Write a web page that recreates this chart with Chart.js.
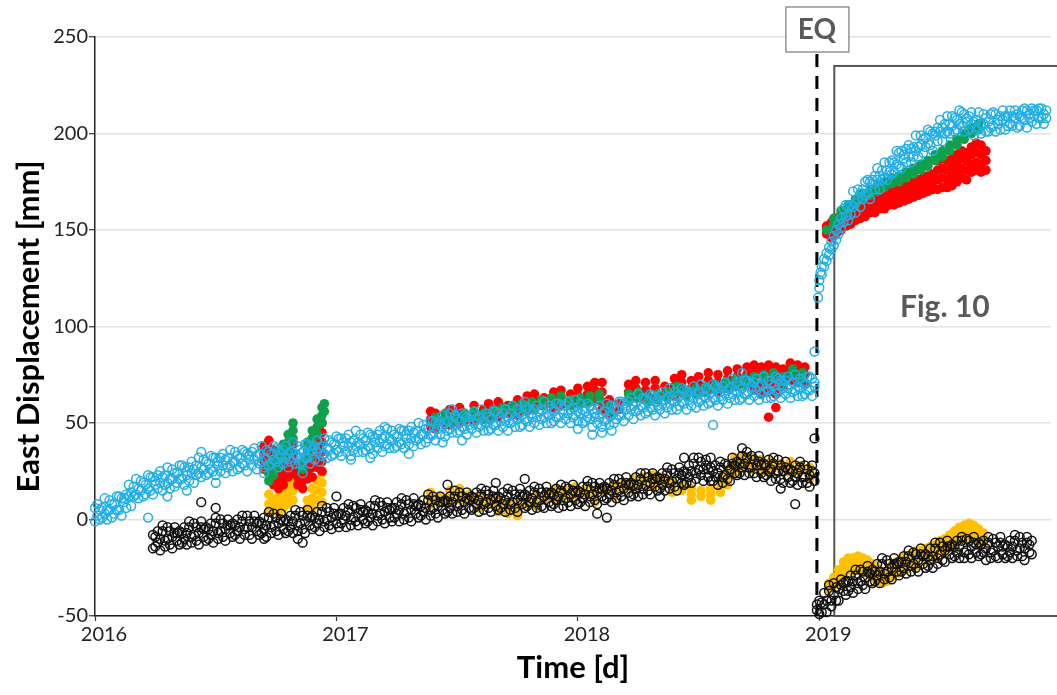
<!DOCTYPE html>
<html>
<head>
<meta charset="utf-8">
<script src="https://cdn.jsdelivr.net/npm/chart.js@4.4.0/dist/chart.umd.min.js"></script>
<style>
  html, body { margin: 0; padding: 0; background: #fff; }
  canvas { display: block; }
</style>
</head>
<body>
<canvas id="myChart" width="1057" height="695"></canvas>
<script>
// axis ticks
const xTicks = [2016, 2017, 2018, 2019];
const yTicks = [-50, 0, 50, 100, 150, 200, 250];

// rows: [time (decimal year), value, value, ...]  east displacement in mm
const blueRows = [
  [2016.00,-1,6],[2016.01,2,8],[2016.02,0,5],[2016.03,6,1],[2016.04,3,11],[2016.05,5,0],[2016.06,10,5],[2016.07,1,8],[2016.08,8,3],[2016.09,12,5],
  [2016.10,5,12],[2016.11,11,2],[2016.12,9,11],[2016.13,6,13],[2016.14,12,18],[2016.15,7,14],[2016.16,17,12],[2016.17,13,21],[2016.18,16,11],[2016.19,20,15],
  [2016.20,12,19],[2016.21,18,13],[2016.22,23,16,1],[2016.23,15,22],[2016.24,22,13],[2016.25,18,20],[2016.26,16,23],[2016.27,19,25],[2016.28,15,22],[2016.29,23,18],
  [2016.30,19,27,12],[2016.31,21,16],[2016.32,26,21],[2016.33,17,24],[2016.34,24,19],[2016.35,28,21],[2016.36,21,28],[2016.37,27,18],[2016.38,23,25,15],[2016.39,20,27],
  [2016.40,24,30],[2016.41,19,26],[2016.42,28,23],[2016.43,24,32],[2016.44,27,22,35],[2016.45,31,26],[2016.46,23,30],[2016.47,29,24],[2016.48,33,26],[2016.49,25,32],
  [2016.50,32,23,19],[2016.51,28,30],[2016.52,25,32],[2016.53,28,34],[2016.54,24,31],[2016.55,32,27],[2016.56,28,36],[2016.57,30,25],[2016.58,35,30],[2016.59,26,33],
  [2016.60,32,27],[2016.61,36,29],[2016.62,28,35],[2016.63,34,25],[2016.64,31,33],[2016.65,28,35],[2016.66,31,37],[2016.67,26,33],[2016.68,34,29],[2016.69,30,38],
  [2016.70,32,27,24],[2016.71,36,31],[2016.72,28,35],[2016.73,34,29],[2016.74,38,31],[2016.75,30,37],[2016.76,36,27],[2016.77,32,34],[2016.78,29,36],[2016.79,32,38],
  [2016.80,27,34],[2016.81,35,30],[2016.82,32,40],[2016.83,34,29],[2016.84,38,33],[2016.85,29,36],[2016.86,35,30,24],[2016.87,39,32],[2016.88,32,39],[2016.89,38,29],
  [2016.90,34,36],[2016.91,31,38],[2016.92,35,41],[2016.93,30,37],[2016.94,38,33],[2016.95,34,42],[2016.96,37,32],[2016.97,41,36],[2016.98,33,40],[2016.99,39,34],
  [2017.00,43,36],[2017.01,35,42],[2017.02,42,33],[2017.03,38,40],[2017.04,35,42],[2017.05,38,44],[2017.06,33,40,31],[2017.07,41,36],[2017.08,38,46],[2017.09,40,35],
  [2017.10,44,39],[2017.11,35,42],[2017.12,41,36],[2017.13,45,38],[2017.14,37,44,32],[2017.15,43,34],[2017.16,40,42],[2017.17,37,44],[2017.18,40,46],[2017.19,35,42],
  [2017.20,43,38,48],[2017.21,39,47],[2017.22,42,37],[2017.23,46,41],[2017.24,37,44],[2017.25,43,38],[2017.26,47,40],[2017.27,39,46],[2017.28,46,37],[2017.29,42,44],
  [2017.30,39,46,34],[2017.31,42,48],[2017.32,38,45],[2017.33,46,41],[2017.34,42,50],[2017.35,44,39],[2017.36,49,44],[2017.37,40,47],[2017.38,47,42],[2017.39,51,44],
  [2017.40,44,51],[2017.41,50,41],[2017.42,47,49],[2017.43,44,51],[2017.44,48,54,40],[2017.45,43,50],[2017.46,51,46],[2017.47,47,55],[2017.48,50,45,57],[2017.49,54,49],
  [2017.50,45,52],[2017.51,51,46],[2017.52,55,48,41],[2017.53,47,54],[2017.54,53,44],[2017.55,49,51],[2017.56,47,54],[2017.57,50,56],[2017.58,45,52],[2017.59,53,48],
  [2017.60,49,57],[2017.61,51,46],[2017.62,55,50],[2017.63,46,53],[2017.64,52,47],[2017.65,56,49],[2017.66,49,56],[2017.67,55,46],[2017.68,51,53],[2017.69,48,55],
  [2017.70,51,57],[2017.71,46,53],[2017.72,55,50],[2017.73,51,59],[2017.74,53,48],[2017.75,57,52],[2017.76,48,55],[2017.77,54,49],[2017.78,59,52,61],[2017.79,51,58],
  [2017.80,57,48],[2017.81,53,55],[2017.82,50,57],[2017.83,53,59],[2017.84,49,56],[2017.85,57,52],[2017.86,53,61],[2017.87,55,50],[2017.88,59,54],[2017.89,50,57],
  [2017.90,56,51],[2017.91,60,53],[2017.92,53,60],[2017.93,59,50],[2017.94,55,57],[2017.95,52,59],[2017.96,55,61],[2017.97,50,57],[2017.98,58,53],[2017.99,54,62],
  [2018.00,56,51,47],[2018.01,60,55],[2018.02,50,57],[2018.03,56,51],[2018.04,60,53],[2018.05,52,59],[2018.06,57,48,44],[2018.07,53,55],[2018.08,50,57],[2018.09,53,59],
  [2018.10,48,55,45],[2018.11,56,51],[2018.12,52,60],[2018.13,54,49],[2018.14,59,54,46],[2018.15,50,57],[2018.16,57,52],[2018.17,61,54],[2018.18,54,61],[2018.19,60,51],
  [2018.20,57,59],[2018.21,54,61],[2018.22,57,63],[2018.23,52,59],[2018.24,61,56],[2018.25,57,65],[2018.26,59,54],[2018.27,63,58],[2018.28,55,62],[2018.29,61,56],
  [2018.30,65,58],[2018.31,57,64],[2018.32,63,54],[2018.33,59,61],[2018.34,57,64],[2018.35,60,66],[2018.36,55,62],[2018.37,63,58],[2018.38,60,68],[2018.39,62,57],
  [2018.40,66,61],[2018.41,57,64],[2018.42,64,59],[2018.43,68,61],[2018.44,60,67],[2018.45,66,57],[2018.46,62,64],[2018.47,59,66],[2018.48,63,69],[2018.49,58,65],
  [2018.50,66,61],[2018.51,62,70],[2018.52,64,59],[2018.53,68,63],[2018.54,60,67],[2018.55,66,61],[2018.56,70,63,49],[2018.57,62,69],[2018.58,68,59],[2018.59,64,66],
  [2018.60,62,69],[2018.61,65,71],[2018.62,60,67],[2018.63,68,63],[2018.64,65,73],[2018.65,67,62],[2018.66,71,66],[2018.67,62,69],[2018.68,68,63,76],[2018.69,72,65],
  [2018.70,65,72],[2018.71,71,62],[2018.72,67,69],[2018.73,64,71],[2018.74,67,73],[2018.75,62,69],[2018.76,70,65],[2018.77,66,74],[2018.78,68,63],[2018.79,72,67],
  [2018.80,63,70],[2018.81,69,64],[2018.82,74,67],[2018.83,66,73],[2018.84,72,63],[2018.85,68,70],[2018.86,65,72],[2018.87,68,74],[2018.88,63,70],[2018.89,71,66],
  [2018.90,67,75],[2018.91,69,64],[2018.92,73,68],[2018.93,64,71],[2018.94,70,65],[2018.95,74,67],[2018.96,67,74],[2018.97,73,64],[2018.98,69,71,87],
  [2018.995,115],[2019.00,124,120],[2019.005,128],[2019.01,131,127],[2019.02,135,131],[2019.03,138,134],[2019.04,141,137],[2019.05,144,140],[2019.06,147,142],[2019.07,150,145],
  [2019.08,153,148],[2019.09,156,151],
  [2019.10,154,161],[2019.11,157,163],[2019.12,155,162],[2019.13,163,158],[2019.14,162,170],[2019.15,164,159],[2019.16,171,166],[2019.17,162,169],[2019.18,171,166],[2019.19,175,168],
  [2019.20,169,176],[2019.21,175,166],[2019.22,174,176],[2019.23,171,178],[2019.24,176,182],[2019.25,171,178],[2019.26,181,176],[2019.27,177,185],[2019.28,181,176],[2019.29,185,180],
  [2019.30,179,186],[2019.31,185,180],[2019.32,191,184],[2019.33,183,190],[2019.34,191,182],[2019.35,187,189],[2019.36,185,192],[2019.37,188,194],[2019.38,185,192],[2019.39,193,188],
  [2019.40,191,199],[2019.41,193,188],[2019.42,199,194],[2019.43,190,197],[2019.44,198,193],[2019.45,202,195],[2019.46,194,201],[2019.47,200,191],[2019.48,199,201],[2019.49,196,203],
  [2019.50,201,207],[2019.51,196,203],[2019.52,205,200],[2019.53,201,209],[2019.54,205,200],[2019.55,209,204],[2019.56,201,208],[2019.57,207,202],[2019.58,212,205],[2019.59,204,211],
  [2019.60,210,201],[2019.61,206,208],[2019.62,202,209],[2019.63,205,211],[2019.64,199,206],[2019.65,207,202],[2019.66,203,211],[2019.67,205,200],[2019.68,210,205],[2019.69,201,208],
  [2019.70,206,201],[2019.71,210,203],[2019.72,204,211],[2019.73,210,201],[2019.74,205,207],[2019.75,202,209],[2019.76,207,212],[2019.77,202,209],[2019.78,209,204],[2019.79,205,212],
  [2019.80,209,204],[2019.81,212,208],[2019.82,203,210],[2019.83,209,204],[2019.84,212,208],[2019.85,207,213],[2019.86,212,203],[2019.87,208,210],[2019.88,206,213],[2019.89,209,212],
  [2019.90,205,212],[2019.91,213,208],[2019.92,208,213],[2019.93,210,205],[2019.94,212,208]
];

const redRows = [
  [2016.70,38,34,30,26],[2016.72,41,37,33,28,24],[2016.74,36,32,27,22,18],[2016.76,33,29,25,20,16],[2016.78,30,26,22,18],[2016.80,34,30,26,22],
  [2016.82,39,34,29,24],[2016.84,26,22,18],[2016.86,24,20,16],[2016.88,35,30,25,21],[2016.90,42,37,32,27,22],[2016.92,47,42,37,32,27],[2016.94,50,45,40,35,30,25],
  [2017.39,56,52,48],[2017.41,55,51,47],[2017.45,53,49],[2017.47,57,53,49],[2017.51,58,54,50],[2017.53,55,51],[2017.57,59,55,51],[2017.61,57,53],[2017.63,60,56,52],
  [2017.67,61,57,53],[2017.71,59,55],[2017.75,62,58,54],[2017.79,64,60,56],[2017.82,65,61,57],[2017.86,63,59],[2017.90,66,62,58],[2017.93,67,63,59],[2017.97,65,61],
  [2018.00,68,64,60],[2018.04,69,65,61],[2018.07,71,67,62],[2018.10,71,66,61,57],[2018.13,62,58,55],[2018.17,60,57],[2018.21,70,66,62],[2018.24,72,68,63],[2018.28,71,67,62],
  [2018.32,72,68,63],[2018.36,69,65],[2018.40,73,69,64],[2018.43,75,71,66],[2018.47,72,68],[2018.50,74,70,65],[2018.54,76,72,67],[2018.58,75,71,66],[2018.62,77,73,68],
  [2018.66,78,74,69],[2018.70,79,75,70],[2018.73,80,76,71,67],[2018.76,79,75,70,65],[2018.79,80,76,71,66,53],[2018.82,79,75,70,65,58],[2018.85,78,74,69],[2018.88,81,77,72],
  [2018.91,80,76,71],[2018.94,79,75,70],
  [2019.03,152,148],[2019.05,154,150,146],[2019.07,156,152,148],[2019.09,158,154,150],[2019.11,160,156,152],[2019.13,161,157,153],[2019.15,163,159,155],[2019.17,164,160,156],
  [2019.19,165,161,157],[2019.21,167,163,159],[2019.23,167,163,159],[2019.25,169,165,161],[2019.27,169,165,161],[2019.29,171,167,163],[2019.31,171,167,163],[2019.33,172,168,164],
  [2019.35,173,169,165],[2019.37,174,170,166],[2019.39,175,171,167],[2019.41,176,172,168],[2019.43,177,173,169],[2019.45,178,174,170],[2019.47,179,175,171],[2019.49,186,181,176,171],
  [2019.51,187,182,177,172],[2019.53,186,181,176,172],[2019.55,187,183,178,173],[2019.57,189,185,180,175],[2019.59,191,187,182,177],[2019.61,190,186,181,176],[2019.63,193,189,184,180],
  [2019.65,195,190,185,181],[2019.67,194,189,184,180],[2019.69,191,186,181]
];

const greenRows = [
  [2016.72,20,24,28],[2016.74,23,27,31],[2016.76,27,31,35],[2016.78,31,35,39],[2016.80,36,40,44],[2016.82,42,46,50],
  [2016.86,26,30],[2016.88,32,36,40],[2016.90,38,42,46],[2016.92,44,48,52],[2016.94,50,54,58],[2016.95,60,56],
  [2017.41,50,53],[2017.45,52,55],[2017.49,54,51],[2017.53,52,55],[2017.57,53,56],[2017.61,55,52],[2017.65,57,54],[2017.69,55,58],[2017.73,56,59],[2017.77,60,57],
  [2017.81,61,58],[2017.85,59,62],[2017.89,60,63],[2017.93,61,64],[2017.97,62,59],[2018.01,63,60],[2018.05,64,61],[2018.09,65,62],[2018.13,59,56],[2018.21,62,65],
  [2018.25,63,66],[2018.29,64,61],[2018.33,65,62],[2018.37,63,66],[2018.41,66,69],[2018.45,67,64],[2018.49,68,65],[2018.53,69,66],[2018.57,70,67],[2018.61,71,68],
  [2018.65,72,69],[2018.69,73,70],[2018.73,74,71],[2018.77,72,75],[2018.81,73,76],[2018.85,74,71],[2018.89,75,78],[2018.93,76,73],
  [2019.03,150],[2019.06,153,156],[2019.09,157,160],[2019.12,160,163],[2019.15,163,166],[2019.18,166,169],[2019.21,168,171],[2019.24,170,173],[2019.27,172,175],
  [2019.30,174,177],[2019.33,175,178],[2019.36,177,180],[2019.39,179,182],[2019.42,181,184],[2019.45,183,186],[2019.48,186,189],[2019.51,188,191],[2019.54,191,194],
  [2019.57,194,197],[2019.60,197,200],[2019.63,200,203],[2019.66,202,205]
];

const orangeRows = [
  [2016.72,13,8,4],[2016.74,10,5],[2016.76,12,7,3],[2016.78,16,11,6],[2016.80,18,13,8],[2016.82,20,15,10],
  [2016.88,10,6],[2016.90,16,11,6],[2016.92,20,15,10],[2016.94,24,19,14,9],
  [2017.39,14,11,8],[2017.43,12,9],[2017.47,15,12,9],[2017.51,16,13,10],[2017.55,13,10],[2017.59,12,9,6],[2017.63,11,8],[2017.67,10,7,4],[2017.71,9,6,3],
  [2017.75,8,5,2],[2017.79,11,8],[2017.83,13,10,7],[2017.87,14,11],[2017.91,16,13,10],[2017.95,15,12],[2017.99,17,14,11],[2018.03,16,13],[2018.07,15,12,9],
  [2018.11,17,14],[2018.15,18,15,12],[2018.19,19,16],[2018.23,21,18,15],[2018.27,22,19],[2018.31,23,20,17],[2018.35,22,19],[2018.39,20,17,14],[2018.43,18,15],
  [2018.47,16,13,10],[2018.51,15,12],[2018.55,16,13,10],[2018.59,20,17,14],[2018.62,26,22,18],[2018.65,32,28,24],[2018.68,33,30,27],[2018.72,32,29,26],
  [2018.76,31,28,25],[2018.80,30,27,24],[2018.84,29,26],[2018.88,30,27,24],[2018.92,28,25],[2018.96,27,24,21],
  [2019.04,-36,-33],[2019.06,-34,-30],[2019.08,-30,-26,-33],[2019.10,-25,-22,-29],[2019.12,-23,-20,-26],[2019.14,-23,-20,-27],[2019.16,-22,-19,-26],[2019.18,-23,-20,-27],
  [2019.20,-24,-21,-28],[2019.22,-26,-23,-30],[2019.24,-28,-25,-32],[2019.26,-30,-27,-33],[2019.28,-29,-32],[2019.30,-27,-24,-30],[2019.32,-25,-22,-28],[2019.34,-23,-20],
  [2019.36,-22,-19,-26],[2019.38,-21,-18],[2019.40,-20,-17,-24],[2019.42,-19,-16],[2019.44,-18,-15,-22],[2019.46,-17,-14],[2019.48,-16,-13,-20],[2019.50,-14,-11],
  [2019.52,-13,-10,-17],[2019.54,-11,-8],[2019.56,-9,-6,-13],[2019.58,-7,-4,-11],[2019.60,-6,-3,-10],[2019.62,-5,-2,-9],[2019.64,-6,-3,-10],[2019.66,-8,-5,-12],[2019.68,-10,-7,-13]
];

const blackRows = [
  [2016.24,-15,-8],[2016.25,-9,-14],[2016.26,-6,-12],[2016.27,-16,-10],[2016.28,-6,-3],[2016.29,-11,-14],[2016.30,-4,-10],[2016.31,-13,-6],[2016.32,-9,-15],[2016.33,-7,-4],
  [2016.34,-11,-7],[2016.35,-13,-6],[2016.36,-7,-12],[2016.37,-4,-10],[2016.38,-13,-7],[2016.39,-4,-1],[2016.40,-9,-12],[2016.41,-2,-8],[2016.42,-11,-4],[2016.43,-7,-13],
  [2016.44,-4,-1,9],[2016.45,-9,-5],[2016.46,-11,-4],[2016.47,-5,-10],[2016.48,-2,-8],[2016.49,-12,-6],[2016.50,-2,1,6],[2016.51,-7,-10],[2016.52,0,-6],[2016.53,-9,-2],
  [2016.54,-5,-11],[2016.55,-3,0],[2016.56,-7,-3],[2016.57,-9,-2],[2016.58,-3,-8],[2016.59,0,-6],[2016.60,-10,-4],[2016.61,-1,2],[2016.62,-5,-8],[2016.63,2,-4],
  [2016.64,-8,-1],[2016.65,-4,-10],[2016.66,-1,2],[2016.67,-6,-2],[2016.68,-8,-1],[2016.69,-2,-7],[2016.70,1,-5,-10],[2016.71,-9,-3],[2016.72,1,4],[2016.73,-4,-7],
  [2016.74,3,-3],[2016.75,-6,1],[2016.76,-2,-8],[2016.77,0,3],[2016.78,-5,-1],[2016.79,-7,0],[2016.80,-1,-6],[2016.81,2,-4],[2016.82,-7,-1],[2016.83,2,5],
  [2016.84,-3,-6,-10],[2016.85,4,-2],[2016.86,-5,2,-12],[2016.87,-1,-7],[2016.88,2,5],[2016.89,-3,1],[2016.90,-5,2],[2016.91,1,-4],[2016.92,4,-2],[2016.93,-6,0],
  [2016.94,4,7],[2016.95,-1,-4],[2016.96,6,0],[2016.97,-3,4],[2016.98,1,-5],[2016.99,3,6],[2017.00,-2,2,12],[2017.01,-4,3],[2017.02,3,-2],[2017.03,6,0],
  [2017.04,-4,2],[2017.05,5,8],[2017.06,0,-3],[2017.07,7,1],[2017.08,-1,6],[2017.09,3,-3],[2017.10,5,8],[2017.11,0,4],[2017.12,-2,5],[2017.13,4,-1],
  [2017.14,7,1],[2017.15,-3,3],[2017.16,7,10],[2017.17,2,-1],[2017.18,9,3],[2017.19,0,7],[2017.20,4,-2],[2017.21,6,9],[2017.22,1,5],[2017.23,-1,6],
  [2017.24,6,1],[2017.25,9,3],[2017.26,-1,5],[2017.27,8,11],[2017.28,3,0],[2017.29,10,4],[2017.30,1,8],[2017.31,5,-1],[2017.32,8,11],[2017.33,3,7],
  [2017.34,1,8],[2017.35,7,2],[2017.36,10,4],[2017.37,0,6],[2017.38,10,13],[2017.39,5,2],[2017.40,12,6],[2017.41,3,10],[2017.42,7,1],[2017.43,9,12],
  [2017.44,5,9],[2017.45,3,10],[2017.46,9,4,18],[2017.47,12,6],[2017.48,3,9],[2017.49,12,15],[2017.50,7,4],[2017.51,14,8],[2017.52,5,12],[2017.53,9,3],
  [2017.54,11,14],[2017.55,6,10],[2017.56,5,12],[2017.57,11,6],[2017.58,14,8],[2017.59,4,10],[2017.60,13,16],[2017.61,8,5],[2017.62,15,9],[2017.63,6,13],
  [2017.64,10,4],[2017.65,12,15],[2017.66,7,11,19],[2017.67,5,12],[2017.68,11,6],[2017.69,14,8],[2017.70,4,10],[2017.71,13,16],[2017.72,8,5],[2017.73,15,9],
  [2017.74,6,13],[2017.75,10,4],[2017.76,13,16],[2017.77,8,12],[2017.78,6,13,21],[2017.79,12,7],[2017.80,15,9],[2017.81,5,11],[2017.82,14,17],[2017.83,9,6],
  [2017.84,16,10],[2017.85,7,14],[2017.86,12,6],[2017.87,14,17],[2017.88,9,13],[2017.89,7,14],[2017.90,13,8],[2017.91,16,10],[2017.92,6,12],[2017.93,15,18],
  [2017.94,10,7],[2017.95,17,11],[2017.96,9,16],[2017.97,13,7],[2017.98,15,18],[2017.99,10,14],[2018.00,8,15],[2018.01,14,9],[2018.02,17,11],[2018.03,7,13],
  [2018.04,17,20],[2018.05,12,9],[2018.06,19,13],[2018.07,10,17],[2018.08,14,8,3],[2018.09,16,19],[2018.10,12,16],[2018.11,10,17],[2018.12,16,11,1],[2018.13,19,13],
  [2018.14,9,15],[2018.15,18,21],[2018.16,14,11],[2018.17,21,15],[2018.18,12,19],[2018.19,16,10],[2018.20,19,22],[2018.21,14,18],[2018.22,12,19],[2018.23,18,13],
  [2018.24,22,16],[2018.25,12,18],[2018.26,21,24],[2018.27,16,13],[2018.28,24,18],[2018.29,15,22],[2018.30,19,13],[2018.31,21,24],[2018.32,17,21],[2018.33,15,22],
  [2018.34,21,16,12],[2018.35,24,18],[2018.36,15,21],[2018.37,24,27],[2018.38,19,16],[2018.39,26,20],[2018.40,17,24],[2018.41,21,15],[2018.42,24,27],[2018.43,19,23],
  [2018.44,18,25,32],[2018.45,24,19],[2018.46,28,22],[2018.47,19,25],[2018.48,29,32],[2018.49,24,21],[2018.50,32,26],[2018.51,23,30],[2018.52,26,20],[2018.53,28,31],
  [2018.54,22,26],[2018.55,20,27,32],[2018.56,25,20],[2018.57,28,22],[2018.58,18,24],[2018.59,27,30],[2018.60,22,19],[2018.61,29,23],[2018.62,21,28],[2018.63,26,20],
  [2018.64,29,32],[2018.65,24,28],[2018.66,23,30],[2018.67,29,24],[2018.68,33,27,37],[2018.69,23,29],[2018.70,32,35],[2018.71,27,24],[2018.72,33,27],[2018.73,24,31],
  [2018.74,28,22],[2018.75,30,33],[2018.76,24,28],[2018.77,22,29],[2018.78,28,23],[2018.79,31,25],[2018.80,20,26],[2018.81,29,32],[2018.82,24,21],[2018.83,31,25],
  [2018.84,21,28,16],[2018.85,25,19],[2018.86,27,30],[2018.87,22,26],[2018.88,19,26],[2018.89,25,20],[2018.90,28,22,8],[2018.91,18,24],[2018.92,27,30],[2018.93,22,19],
  [2018.94,28,22],[2018.95,19,26],[2018.96,23,17],[2018.97,25,28],[2018.98,20,24,42],
  [2018.99,-44,-47],[2019.00,-49,-42],[2019.01,-43,-48],[2019.02,-38,-44],[2019.03,-48,-42],[2019.04,-37,-34],[2019.05,-42,-45],[2019.06,-33,-39],[2019.07,-42,-35],[2019.08,-36,-42],
  [2019.09,-34,-31],[2019.10,-37,-33],[2019.11,-39,-32],[2019.12,-32,-37],[2019.13,-29,-35],[2019.14,-38,-32],[2019.15,-29,-26],[2019.16,-33,-36],[2019.17,-26,-32],[2019.18,-34,-27],
  [2019.19,-30,-36],[2019.20,-27,-24],[2019.21,-32,-28],[2019.22,-33,-26],[2019.23,-27,-32],[2019.24,-23,-29],[2019.25,-33,-27],[2019.26,-23,-20],[2019.27,-28,-31],[2019.28,-21,-27],
  [2019.29,-30,-23],[2019.30,-25,-31],[2019.31,-23,-20],[2019.32,-27,-23],[2019.33,-29,-22],[2019.34,-22,-27],[2019.35,-19,-25],[2019.36,-28,-22],[2019.37,-19,-16],[2019.38,-24,-27],
  [2019.39,-17,-23],[2019.40,-25,-18],[2019.41,-21,-27],[2019.42,-18,-15],[2019.43,-23,-19],[2019.44,-25,-18],[2019.45,-19,-24],[2019.46,-15,-21],[2019.47,-25,-19],[2019.48,-15,-12],
  [2019.49,-20,-23],[2019.50,-12,-18],[2019.51,-21,-14],[2019.52,-16,-22],[2019.53,-14,-11],[2019.54,-18,-14],[2019.55,-20,-13],[2019.56,-14,-19],[2019.57,-11,-17],[2019.58,-20,-14],
  [2019.59,-11,-9],[2019.60,-17,-20],[2019.61,-10,-16],[2019.62,-18,-11],[2019.63,-14,-20],[2019.64,-12,-9],[2019.65,-17,-13],[2019.66,-19,-12],[2019.67,-13,-18],[2019.68,-11,-17],
  [2019.69,-21,-15],[2019.70,-12,-9],[2019.71,-17,-20],[2019.72,-10,-16],[2019.73,-19,-12],[2019.74,-14,-20],[2019.75,-12,-9],[2019.76,-18,-14],[2019.77,-20,-13],[2019.78,-14,-19],
  [2019.79,-11,-17],[2019.80,-20,-14],[2019.81,-11,-8],[2019.82,-16,-19],[2019.83,-9,-15],[2019.84,-19,-12],[2019.85,-15,-21],[2019.86,-12,-9],[2019.87,-17,-13],[2019.88,-18,-11]
];

// annotation anchors (data units)
const eqTime = 2018.99;
const boxStart = 2019.062;
const boxTop = 235;
const figLabelAt = [2019.52, 110];

function toPoints(rows) {
  return rows.flatMap(r => r.slice(1).map(v => ({ x: r[0], y: v })));
}

const marks = {
  id: 'marks',
  beforeDatasetsDraw(chart) {
    const ctx = chart.ctx, xs = chart.scales.x, ys = chart.scales.y;
    const xe = xs.getPixelForValue(eqTime);
    const xb = xs.getPixelForValue(boxStart);
    const yt = ys.getPixelForValue(boxTop);
    ctx.save();
    ctx.strokeStyle = '#555';
    ctx.lineWidth = 2;
    ctx.strokeRect(xb, yt, chart.width + 20 - xb, ys.bottom - yt);
    ctx.strokeStyle = '#000';
    ctx.lineWidth = 3;
    ctx.setLineDash([13, 9]);
    ctx.beginPath();
    ctx.moveTo(xe, 54);
    ctx.lineTo(xe, ys.bottom);
    ctx.stroke();
    ctx.restore();
  },
  afterDatasetsDraw(chart) {
    const ctx = chart.ctx, xs = chart.scales.x, ys = chart.scales.y;
    const xe = xs.getPixelForValue(eqTime);
    ctx.save();
    // EQ label
    ctx.fillStyle = '#fff';
    ctx.strokeStyle = '#7a7a7a';
    ctx.lineWidth = 1.2;
    ctx.fillRect(xe - 31, 7, 63, 45);
    ctx.strokeRect(xe - 31, 7, 63, 45);
    ctx.fillStyle = '#595959';
    ctx.font = 'bold 28px Lato';
    ctx.textAlign = 'center';
    ctx.textBaseline = 'middle';
    ctx.fillText('EQ', xe, 30);
    // Fig. 10 label
    ctx.font = 'bold 30px Lato';
    ctx.fillText('Fig. 10', xs.getPixelForValue(figLabelAt[0]), ys.getPixelForValue(figLabelAt[1]));
    ctx.restore();
  }
};

const openPt = (color) => ({
  pointStyle: 'circle', pointRadius: 4.4, pointHoverRadius: 4.4,
  pointBorderWidth: 1.5, borderColor: color, pointBorderColor: color,
  backgroundColor: 'rgba(0,0,0,0)', pointBackgroundColor: 'rgba(0,0,0,0)'
});
const fillPt = (color) => ({
  pointStyle: 'circle', pointRadius: 4.8, pointHoverRadius: 4.8,
  pointBorderWidth: 0, borderColor: color, pointBorderColor: color,
  backgroundColor: color, pointBackgroundColor: color
});

Chart.defaults.font.family = 'Lato';

var ctx = document.getElementById('myChart').getContext('2d');
var myChart = new Chart(ctx, {
  type: 'scatter',
  data: {
    datasets: [
      Object.assign({ label: 'black', data: toPoints(blackRows), clip: false }, openPt('#111')),
      Object.assign({ label: 'blue', data: toPoints(blueRows), clip: false }, openPt('#22aee6')),
      Object.assign({ label: 'green', data: toPoints(greenRows), clip: false }, fillPt('#10a04c')),
      Object.assign({ label: 'red', data: toPoints(redRows), clip: false }, fillPt('#ff0000')),
      Object.assign({ label: 'orange', data: toPoints(orangeRows), clip: false }, fillPt('#ffc000'))
    ]
  },
  options: {
    responsive: false,
    animation: false,
    devicePixelRatio: 1,
    layout: { padding: { top: 37, right: 0, left: 0, bottom: 0 } },
    plugins: { legend: { display: false }, tooltip: { enabled: false } },
    scales: {
      x: {
        type: 'linear',
        min: 2016,
        max: 2019.96,
        afterFit: (s) => { s.height = 79; },
        afterBuildTicks: (s) => { s.ticks = xTicks.map(v => ({ value: v })); },
        ticks: {
          callback: (v) => String(v),
          font: { family: 'Lato', size: 20 },
          color: '#222',
          labelOffset: 9,
          padding: 2,
          maxRotation: 0,
          autoSkip: false
        },
        grid: { drawOnChartArea: false, tickLength: 5, tickColor: '#333', tickWidth: 1.2 },
        border: { color: '#222', width: 1.5 },
        title: {
          display: true,
          text: 'Time [d]',
          font: { family: 'Lato', size: 31, weight: 'bold' },
          color: '#000',
          padding: { top: 0, bottom: 8 }
        }
      },
      y: {
        type: 'linear',
        min: -50,
        max: 250,
        afterFit: (s) => { s.width = 95; },
        afterBuildTicks: (s) => { s.ticks = yTicks.map(v => ({ value: v })); },
        ticks: {
          font: { family: 'Lato', size: 20 },
          color: '#222',
          padding: 1
        },
        grid: { color: '#e2e2e2', lineWidth: 1.5, tickLength: 6, tickColor: '#333', tickWidth: 1.2 },
        border: { color: '#222', width: 1.5 },
        title: {
          display: true,
          text: 'East Displacement [mm]',
          font: { family: 'Lato', size: 31, weight: 'bold' },
          color: '#000',
          padding: { top: 10, bottom: 0 }
        }
      }
    }
  },
  plugins: [marks]
});
</script>
</body>
</html>
